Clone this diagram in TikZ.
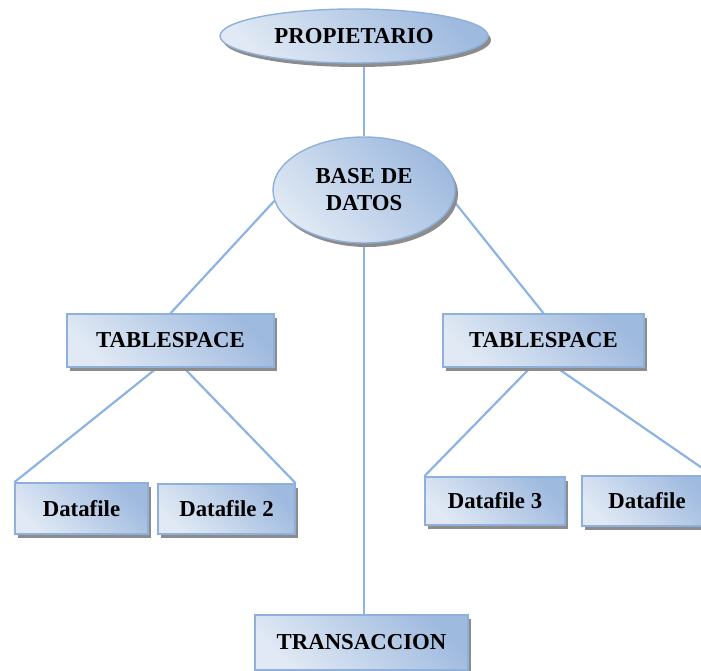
\documentclass[tikz,border=0pt]{standalone}
\usepackage{fontspec}
\setmainfont{Liberation Serif}
\usetikzlibrary{shapes.geometric,shadows,backgrounds}

\definecolor{edgeblue}{HTML}{8EB0DA}
\definecolor{linkblue}{HTML}{8DB3E2}
\definecolor{filllight}{HTML}{E0E9F4}
\definecolor{filldark}{HTML}{9FBADF}
\definecolor{shadowgray}{HTML}{8C8C8C}

\tikzset{
  shape base/.style={
    draw=edgeblue, line width=1.4pt,
    top color=filldark, bottom color=filllight, shading angle=-45,
    drop shadow={shadow xshift=3pt, shadow yshift=-4pt, fill=shadowgray, opacity=1},
    inner sep=0pt, font=\bfseries\fontsize{22.8}{27}\selectfont, align=center
  },
  boxnode/.style={shape base, rectangle, minimum width=#1},
  ovalnode/.style={shape base, ellipse},
  link/.style={draw=linkblue, line width=2.2pt}
}

\begin{document}
\begin{tikzpicture}[x=1pt, y=-1pt]
  \useasboundingbox (0,0) rectangle (701,671);

  % ovals
  \node[ovalnode, minimum width=268pt, minimum height=54pt] (prop) at (354,36) {PROPIETARIO};
  \node[ovalnode, minimum width=182pt, minimum height=106pt] (base) at (364,190) {BASE DE\\DATOS};

  % tablespaces
  \node[boxnode=207pt, minimum height=53pt] (ts1) at (170.5,340.5) {TABLESPACE};
  \node[boxnode=201pt, minimum height=53pt] (ts2) at (543.5,340.5) {TABLESPACE};

  % datafiles
  \node[boxnode=133pt, minimum height=51pt] (df1) at (81.5,508.5) {Datafile};
  \node[boxnode=137pt, minimum height=50pt] (df2) at (226.5,509) {Datafile 2};
  \node[boxnode=140pt, minimum height=48pt] (df3) at (495,501) {Datafile 3};
  \node[boxnode=130pt, minimum height=50pt] (df4) at (647,501) {Datafile};

  % transaction
  \node[boxnode=213pt, minimum height=55pt] (tr) at (361.5,642.5) {TRANSACCION};

  % connectors behind the shapes
  \begin{scope}[on background layer]
    \draw[link] (base.north) -- (base.north |- prop.south);
    \draw[link] (base.187) -- (ts1.north);
    \draw[link] (base.-7) -- (ts2.north);
    \draw[link] (base.south) -- (base.south |- tr.north);
    \draw[link] (ts1.244) -- (df1.north west);
    \draw[link] (ts1.296) -- (df2.north east);
    \draw[link] (ts2.244) -- (df3.north west);
    \draw[link] (ts2.296) -- (df4.north east);
  \end{scope}
\end{tikzpicture}
\end{document}
